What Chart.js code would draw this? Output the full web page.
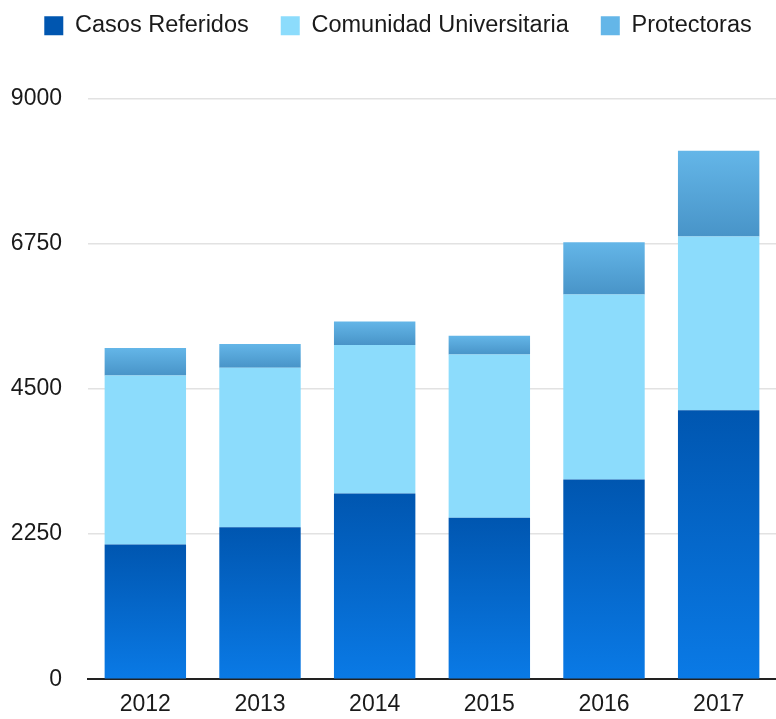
<!DOCTYPE html>
<html>
<head>
<meta charset="utf-8">
<script src="https://cdn.jsdelivr.net/npm/chart.js@4/dist/chart.umd.min.js"></script>
<style>
    html, body { margin: 0; padding: 0; background: #fff; overflow: hidden; }
    canvas { display: block; }
</style>
</head>
<body>
<canvas id="casosChart" width="776" height="719"></canvas>
<script>
const years = ["2012", "2013", "2014", "2015", "2016", "2017"];
const casosReferidos = [2086, 2356, 2879, 2501, 3094, 4170];
const comunidadUniversitaria = [2622, 2470, 2301, 2530, 2870, 2690];
const protectoras = [426, 369, 364, 292, 810, 1332];
const yTicks = [0, 2250, 4500, 6750, 9000];

const fontFamily = "'Liberation Sans', Arial, sans-serif";

// vertical gradient for one stacked segment (top colour -> bottom colour)
function segmentGradient(topColor, bottomColor, fallback) {
    return function (ctx) {
        const chart = ctx.chart;
        const y = chart.scales.y;
        if (!chart.chartArea || !y || ctx.dataIndex === undefined) return fallback;
        let base = 0;
        for (let d = 0; d < ctx.datasetIndex; d++) {
            base += chart.data.datasets[d].data[ctx.dataIndex];
        }
        const value = chart.data.datasets[ctx.datasetIndex].data[ctx.dataIndex];
        const top = y.getPixelForValue(base + value);
        const bottom = y.getPixelForValue(base);
        if (!isFinite(top) || !isFinite(bottom) || top === bottom) return fallback;
        const g = chart.ctx.createLinearGradient(0, top, 0, bottom);
        g.addColorStop(0, topColor);
        g.addColorStop(1, bottomColor);
        return g;
    };
}

// push the plot area down below the legend, and nudge the legend a bit right
const legendSpace = {
    id: "legendSpace",
    beforeInit(chart) {
        const fit = chart.legend.fit;
        chart.legend.fit = function () {
            fit.bind(chart.legend)();
            this.height += 51;
        };
    },
    afterLayout(chart) {
        chart.legend.left += 10;
        chart.legend.right += 10;
    }
};

document.addEventListener("DOMContentLoaded", function () {
    const ctx = document.getElementById("casosChart").getContext("2d");

    new Chart(ctx, {
        type: "bar",
        data: {
            labels: years,
            datasets: [
                {
                    label: "Casos Referidos",
                    data: casosReferidos,
                    backgroundColor: segmentGradient("#0056b0", "#0a7ae6", "#0068cc")
                },
                {
                    label: "Comunidad Universitaria",
                    data: comunidadUniversitaria,
                    backgroundColor: "#8cdcfc"
                },
                {
                    label: "Protectoras",
                    data: protectoras,
                    backgroundColor: segmentGradient("#64b6e8", "#4894c8", "#55a5d8")
                }
            ]
        },
        options: {
            responsive: false,
            animation: false,
            layout: { padding: { top: -18, left: 0, right: 0, bottom: 0 } },
            datasets: {
                bar: { barPercentage: 0.71, categoryPercentage: 1 }
            },
            plugins: {
                legend: {
                    position: "top",
                    labels: {
                        boxWidth: 19,
                        boxHeight: 19,
                        padding: 32,
                        color: "#1a1a1a",
                        font: { family: fontFamily, size: 23.5 }
                    }
                },
                tooltip: { enabled: false }
            },
            scales: {
                x: {
                    stacked: true,
                    afterFit(scale) { scale.height = 35; },
                    grid: { display: false, drawTicks: false },
                    border: { display: true, color: "#222", width: 2 },
                    ticks: {
                        padding: 12,
                        color: "#1a1a1a",
                        font: { family: fontFamily, size: 23 }
                    }
                },
                y: {
                    stacked: true,
                    min: 0,
                    max: 9000,
                    afterFit(scale) { scale.width = 88; },
                    afterBuildTicks(scale) {
                        scale.ticks = yTicks.map(v => ({ value: v }));
                    },
                    grid: { color: "#e2e2e2", lineWidth: 1.5, drawTicks: false },
                    border: { display: false },
                    ticks: {
                        padding: 26,
                        color: "#1a1a1a",
                        font: { family: fontFamily, size: 23 },
                        callback: v => String(v)
                    }
                }
            }
        },
        plugins: [legendSpace]
    });
});
</script>
</body>
</html>
